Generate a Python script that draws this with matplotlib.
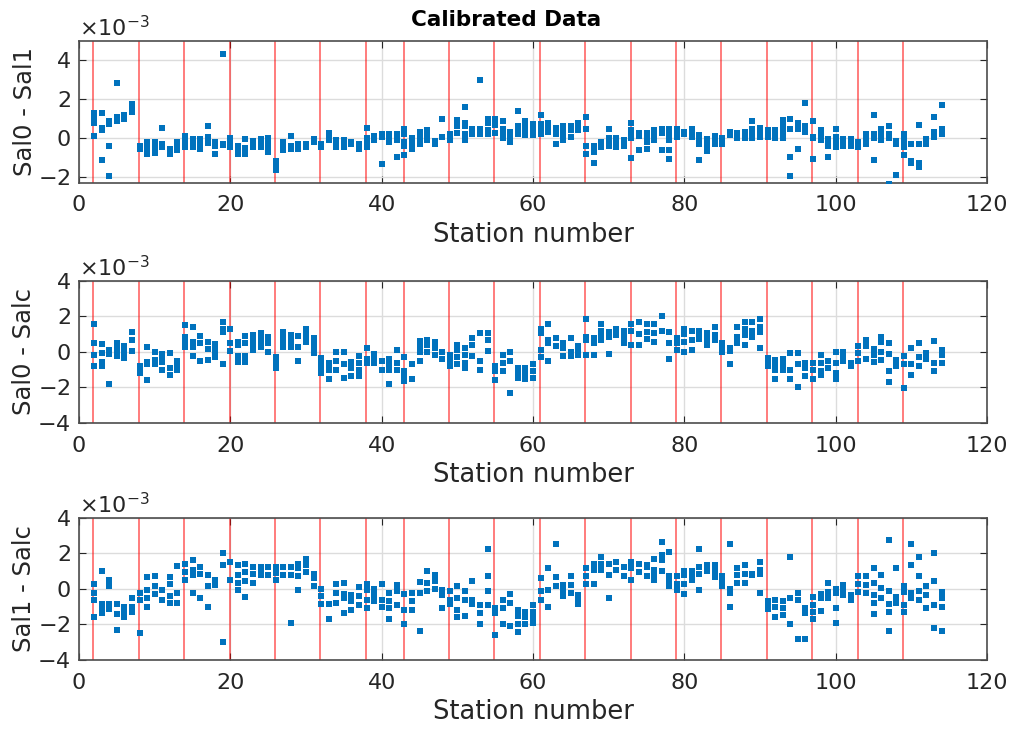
import matplotlib
matplotlib.use("Agg")
import matplotlib.pyplot as plt

# station numbers and per-station differences (units of 1e-3)
stations = list(range(2, 115))
cast_breaks = [2, 8, 14, 20, 26, 32, 38, 43, 49, 55, 61, 67, 73, 79, 85, 91, 97, 103, 109]

sal0_sal1 = [
    [1.3, 1.1, 0.9, 0.8, 0.1], [1.3, 0.5, 0.4, -1.1], [0.9, 0.75, -0.4, -1.95], [2.85, 1.1, 1.0, 0.9],
    [1.2, 1.1, 1.0], [1.75, 1.6, 1.5, 1.35], [-0.4, -0.5, -0.55], [-0.2, -0.4, -0.6, -0.8],
    [-0.2, -0.4, -0.6, -0.75], [0.5, -0.3, -0.45], [-0.55, -0.7, -0.8], [-0.2, -0.4, -0.6],
    [0.1, -0.1, -0.2, -0.45], [-0.05, -0.2, -0.35, -0.45], [-0.05, -0.25, -0.4, -0.55], [0.6, 0.05, -0.1, -0.25],
    [-0.2, -0.3, -0.4, -0.8], [4.3, -0.3, -0.35], [0.0, -0.2, -0.35, -0.45], [-0.4, -0.6, -0.8],
    [-0.05, -0.5, -0.65, -0.8], [-0.15, -0.3, -0.45], [-0.05, -0.25, -0.45], [0.0, -0.2, -0.45, -0.7],
    [-1.15, -1.35, -1.5, -1.65], [-0.2, -0.4, -0.6], [0.1, -0.4, -0.55], [-0.3, -0.4, -0.55],
    [-0.3, -0.45], [-0.05, -0.2], [-0.3, -0.45], [0.25, 0.1, -0.1],
    [-0.1, -0.25, -0.45], [-0.1, -0.3, -0.45], [-0.2, -0.3], [-0.3, -0.45, -0.55],
    [0.5, 0.0, -0.2, -0.45], [0.1, 0.0, -0.1], [0.2, 0.05, -1.35], [0.2, 0.0, -0.2],
    [0.2, 0.0, -0.1, -0.95], [0.45, 0.2, -0.2, -0.4, -0.85], [0.0, -0.3, -0.55], [0.3, 0.0, -0.3],
    [0.4, 0.15, -0.1], [-0.15, -0.3], [1.0, 0.05], [0.2, 0.05, -0.1],
    [0.95, 0.6, 0.25], [1.6, 0.8, 0.6, 0.2, -0.1], [0.45, 0.3, 0.2], [3.0, 0.45, 0.3, 0.2],
    [1.0, 0.8, 0.4, 0.2], [1.0, 0.7, 0.25], [0.9, 0.45, 0.2, 0.0], [0.3, 0.1, -0.2],
    [1.4, 0.65, 0.45, 0.2], [0.9, 0.6, 0.35, 0.15], [0.75, 0.45, 0.15], [1.2, 0.75, 0.45, 0.2],
    [0.8, 0.55, 0.3], [0.5, 0.2, -0.3], [0.6, 0.4, 0.2, -0.1], [0.65, 0.4, 0.05],
    [0.8, 0.6, 0.4], [1.1, 0.45, -0.4, -0.8], [-0.4, -0.55, -0.7, -1.3], [-0.2, -0.3, -0.45],
    [0.45, 0.0, -0.2, -0.4], [0.0, -0.2, -0.45], [-0.1, -0.25, -0.4], [0.8, 0.4, 0.2, 0.0, -1.0],
    [0.25, 0.1, -0.6], [0.25, 0.0, -0.2, -0.55], [0.4, 0.2, 0.0, -0.1], [0.45, 0.25, -0.6],
    [0.45, 0.2, -0.1, -0.6, -1.05], [0.45, 0.2, 0.05], [0.3, 0.2], [0.45, 0.25, 0.05],
    [0.15, -0.1, -0.3, -1.1], [-0.05, -0.3, -0.5, -0.65], [0.1, -0.1, -0.3], [0.0, -0.15, -0.3],
    [0.3, 0.15], [0.25, 0.1, 0.0], [0.3, 0.15, 0.0], [0.9, 0.45, 0.2, 0.0],
    [0.5, 0.3, 0.05], [0.4, 0.2, 0.05], [0.4, 0.2, 0.0], [0.95, 0.7, 0.4, 0.1, 0.0],
    [1.0, 0.45, -0.95, -1.95], [0.8, 0.55, 0.45, -0.55], [1.8, 0.65, 0.45, 0.3], [0.9, 0.05, 0.0, -1.05],
    [0.4, 0.2, 0.0, -0.1], [-0.05, -0.2, -0.4, -0.95], [0.45, 0.05, -0.2, -0.45], [-0.05, -0.2, -0.4],
    [-0.05, -0.2, -0.4], [-0.2, -0.3, -0.45], [0.2, 0.0, -0.3], [1.2, 0.2, 0.0, -1.1],
    [0.45, 0.2, -0.1], [0.6, 0.2, 0.0, -2.35], [-0.15, -0.3, -1.9], [0.2, 0.0, -0.2, -0.45, -0.85],
    [-0.3, -1.15, -1.25], [0.7, -0.3, -1.3, -1.5], [-0.05, -0.2, -0.3], [1.1, 0.3, 0.05],
    [1.7, 0.45, 0.3, 0.2],
]

sal0_salc = [
    [1.6, 0.5, -0.2, -0.8], [0.45, -0.05, -0.55, -0.8], [0.1, -0.1, -1.8], [0.5, 0.2, 0.0, -0.25],
    [0.35, 0.0, -0.2, -0.35], [1.1, 0.65, 0.05], [-0.8, -1.0, -1.2], [0.3, -0.55, -0.7, -1.6],
    [0.0, -0.45, -0.7], [-0.1, -0.35, -0.55, -1.0], [-0.05, -0.9, -1.3], [-0.5, -0.8, -1.0],
    [1.5, 0.85, 0.5, 0.3], [1.4, 0.55, 0.3, -0.25], [0.9, 0.5, -0.5], [0.55, 0.15, -0.45],
    [0.45, 0.15, -0.1, -0.3], [1.7, 1.3, 1.1, -0.7], [1.3, 0.5, 0.05], [0.55, 0.4, -0.25, -0.55],
    [0.9, 0.5, -0.25, -0.55], [0.95, 0.7, 0.4, 0.1], [1.05, 0.8, 0.5, 0.3], [0.85, 0.5, 0.0],
    [-0.3, -0.6, -0.9], [1.1, 0.85, 0.5, 0.3], [0.95, 0.6, 0.3], [0.9, 0.3, -0.5],
    [1.3, 1.05, 0.8, 0.55], [0.8, 0.5, 0.2, -0.05], [-0.35, -0.6, -0.9, -1.2], [-0.6, -0.8, -1.0, -1.55],
    [0.0, -0.5, -1.0], [0.0, -0.7, -1.45], [-0.55, -0.75, -0.9, -1.35], [-0.25, -0.6, -1.0, -1.35],
    [0.2, -0.4, -0.6], [-0.1, -0.35, -0.6], [-0.5, -1.0], [-0.4, -0.7, -1.0, -1.8],
    [0.1, -0.6, -1.0], [-0.3, -1.05, -1.3, -1.65], [-0.7, -1.5], [0.6, 0.3, 0.0, -0.5],
    [0.65, 0.4, 0.0], [0.55, 0.2, -0.15], [0.0, -0.4], [-0.15, -0.5, -0.8],
    [0.4, 0.1, -0.3, -0.7], [0.2, -0.2, -0.6, -0.9], [0.8, 0.4, -0.25], [1.05, -0.5, -1.0],
    [1.05, 0.65, 0.05], [-0.8, -1.1, -1.6], [-0.15, -0.6, -1.1], [0.0, -0.5, -2.3],
    [-0.9, -1.2, -1.45], [-0.9, -1.2, -1.55], [-0.7, -1.1, -1.45], [1.3, 1.05, 0.1, -0.3],
    [1.6, 0.65, 0.5, -0.5], [0.8, 0.35], [0.5, 0.2, -0.25], [0.8, 0.0, -0.25],
    [0.35, 0.05, -0.15], [1.85, 0.85, 0.65, -0.2], [0.8, 0.5, -0.15], [1.6, 1.2, 0.9, 0.65],
    [1.15, 0.85, -0.1], [1.3, 1.1, 0.95], [1.2, 0.85, 0.5], [1.55, 1.2, 0.4],
    [1.7, 1.0, 0.4], [1.6, 1.15, 0.75], [1.6, 1.05, 0.55], [2.0, 1.2],
    [1.1, 0.5, -0.4], [0.8, 0.5, 0.1], [1.3, 1.0, 0.55, 0.0], [1.2, 0.65, 0.1],
    [1.2, 0.95, 0.75], [1.05, 0.7, 0.4], [1.4, 0.95, 0.65], [0.5, 0.2, 0.0],
    [0.2, 0.05, -0.7], [1.4, 0.85, 0.5], [1.7, 1.3, 0.95, 0.4], [1.7, 1.2, 0.85],
    [1.85, 1.4, 1.15, 0.2], [-0.35, -0.55, -0.8], [-0.45, -0.7, -1.0, -1.55], [-0.4, -0.7, -1.0],
    [-0.05, -1.0, -1.5], [-0.05, -0.7, -2.0], [-0.6, -0.9, -1.35], [-0.65, -1.0, -1.55],
    [-0.2, -0.6, -1.1, -1.3], [-0.5, -0.9], [0.0, -0.6, -1.2, -1.5], [0.0, -0.2, -0.5],
    [-0.6, -0.8], [0.35, -0.05, -0.5], [0.65, 0.35, -0.4], [0.15, -0.15, -0.55],
    [0.85, 0.55, 0.0, -0.45], [0.5, -0.1, -1.1, -1.7], [-0.45, -0.8], [-0.25, -0.7, -2.05],
    [0.2, -0.7, -1.3], [0.5, -0.3, -0.8], [-0.05, -0.4], [0.6, -0.6, -1.1],
    [0.1, -0.15, -0.6],
]

sal1_salc = [
    [0.3, -0.25, -0.6, -1.6], [1.0, -0.85, -1.05, -1.35], [0.5, 0.15, -0.85, -1.15], [-0.85, -1.4, -2.3],
    [-1.0, -1.3, -1.6], [-0.5, -1.0, -1.3], [-0.25, -0.6, -2.5], [0.65, -0.05, -0.5, -1.0],
    [0.7, 0.15, -0.3], [-0.05, -0.6], [0.65, 0.3, -0.4, -0.8], [1.3, -0.25, -0.8],
    [1.4, 0.95, 0.5], [1.65, 1.05, 0.8, -0.25], [1.25, 0.85, -0.5], [0.8, 0.15, -1.0],
    [0.5, 0.2], [2.0, 1.35, -3.0], [1.5, 0.5], [1.35, 0.8, 0.35, -0.05],
    [1.4, 0.95, 0.45, -0.45], [1.25, 0.85, 0.35], [1.25, 1.0, 0.8], [1.25, 0.8],
    [1.25, 0.9, 0.5], [1.25, 0.8], [1.25, 0.8, -1.9], [1.4, 1.15, 0.7, -0.05],
    [1.7, 1.35, 0.95], [0.85, 0.6, 0.15], [0.0, -0.4, -0.85], [-0.85, -1.7],
    [0.3, -0.25, -0.8], [0.35, -0.3, -0.5, -1.35], [-0.35, -0.7, -1.2], [0.1, -0.4, -0.9],
    [0.3, -0.05, -0.6, -1.1], [0.0, -0.35, -0.7], [0.3, -0.65, -1.0], [-0.25, -0.7, -1.1, -1.7],
    [0.2, -0.1, -0.9], [-0.3, -1.2, -2.0], [-0.25, -0.7, -1.2], [0.4, -0.25, -2.35],
    [1.0, 0.35, -0.1], [0.8, 0.45, 0.0], [-0.05, -0.35, -1.1], [-0.1, -0.6, -0.85],
    [0.15, -0.5, -1.2, -1.6], [-0.1, -0.6, -1.55], [0.45, -0.65, -0.85], [-0.9, -1.35, -1.95],
    [2.25, 0.7, -0.1, -0.9], [-1.1, -1.35, -2.6], [-0.65, -1.1, -1.95], [-0.3, -0.8, -2.1],
    [-1.2, -1.55, -2.0, -2.4], [-1.3, -1.6, -2.0], [-0.9, -1.3, -1.6, -1.9], [0.6, -0.1, -0.6],
    [1.2, -0.05, -1.0], [2.55, 0.65, 0.15], [0.2, -0.1, -0.4], [0.7, 0.2, -0.25],
    [-0.35, -0.6, -0.85], [1.15, 0.75, 0.3], [1.4, 1.05, 0.3], [1.8, 1.4, 1.05],
    [1.4, 0.8, -0.5], [1.5, 1.05], [1.25, 0.7], [1.5, 1.15, 0.5],
    [1.4, 0.95], [1.35, 1.25, 0.7], [1.7, 1.05, 0.85, 0.5], [2.65, 1.9, 1.6, 1.0],
    [2.05, 0.7, 0.4, 0.15], [0.7, 0.3, -0.05], [1.0, 0.8, 0.3, -0.3], [1.0, 0.75, 0.5],
    [2.25, 1.25, 0.85, -0.05], [1.35, 1.0], [1.35, 1.0, 0.65], [0.7, 0.4, 0.15],
    [2.5, 0.0, -0.25, -1.0], [1.2, 0.8, 0.35], [1.35, 0.85, 0.35], [0.85, 0.8],
    [1.5, 1.05, 0.85, -0.25], [-0.7, -0.9, -1.15], [-0.6, -1.0, -1.6], [-0.7, -1.1, -1.45],
    [1.8, -0.5, -2.0], [-0.25, -0.6, -2.8], [-1.1, -1.35, -2.8], [-0.45, -0.9, -1.3, -1.7],
    [-0.3, -0.5, -1.25], [0.35, -0.2, -0.5], [0.0, -0.25, -1.1, -1.9], [0.2, -0.1, -0.35],
    [-0.35, -0.65], [0.7, 0.3, -0.2], [0.7, 0.2, -0.25], [1.2, 0.35, -0.35, -0.8, -1.4],
    [0.8, 0.05, -0.5], [2.75, -0.1, -0.85, -1.3, -2.35], [1.2, -0.45, -0.8], [0.15, -0.2, -0.9, -1.3],
    [2.55, 1.35, -0.25, -0.5], [1.8, 0.7, -0.1, -0.6], [0.15, -0.35, -1.1], [2.0, 0.45, -0.9, -2.2],
    [-0.2, -0.5, -1.0, -2.35],
]

panels = [
    ("Sal0 - Sal1", sal0_sal1, (-2.3e-3, 5e-3), [-2e-3, 0, 2e-3, 4e-3]),
    ("Sal0 - Salc", sal0_salc, (-4e-3, 4e-3), [-4e-3, -2e-3, 0, 2e-3, 4e-3]),
    ("Sal1 - Salc", sal1_salc, (-4e-3, 4e-3), [-4e-3, -2e-3, 0, 2e-3, 4e-3]),
]

fig = plt.figure(figsize=(10.12, 7.31), dpi=100)
bottoms = [0.7497, 0.4213, 0.0971]
dark = "#262626"

for (label, values, ylim, yticks), b in zip(panels, bottoms):
    ax = fig.add_axes([0.0781, b, 0.8972, 0.1945])
    xs, ys = [], []
    for st, vals in zip(stations, values):
        for v in vals:
            xs.append(st)
            ys.append(v * 1e-3)
    for xb in cast_breaks:
        ax.axvline(xb - 0.1, color="red", alpha=0.6, lw=1.2, zorder=1)
    ax.plot(xs, ys, "s", ms=3.9, color="#0072BD", mew=0, zorder=3)
    ax.set_xlim(0, 120)
    ax.set_ylim(*ylim)
    ax.set_xticks(range(0, 121, 20))
    ax.set_yticks(yticks)
    ax.grid(True, color="#dcdcdc", lw=1.0, zorder=0)
    ax.set_axisbelow(True)
    ax.ticklabel_format(axis="y", style="sci", scilimits=(-3, -3), useMathText=True)
    off = ax.yaxis.get_offset_text()
    off.set_fontsize(16)
    off.set_color(dark)
    ax.tick_params(direction="in", top=True, right=True, labelsize=16, colors=dark,
                   length=5, pad=6)
    ax.tick_params(axis="x", pad=9)
    for sp in ax.spines.values():
        sp.set_color("#4d4d4d")
        sp.set_linewidth(1.2)
    ax.set_xlabel("Station number", fontsize=18.5, color=dark, labelpad=5)
    ax.set_ylabel(label, fontsize=17.5, color=dark, labelpad=1)

fig.text(0.5, 0.972, "Calibrated Data", ha="center", va="center", fontsize=15.5,
         fontweight="bold", color="black")

fig.savefig("out.png", dpi=100)
